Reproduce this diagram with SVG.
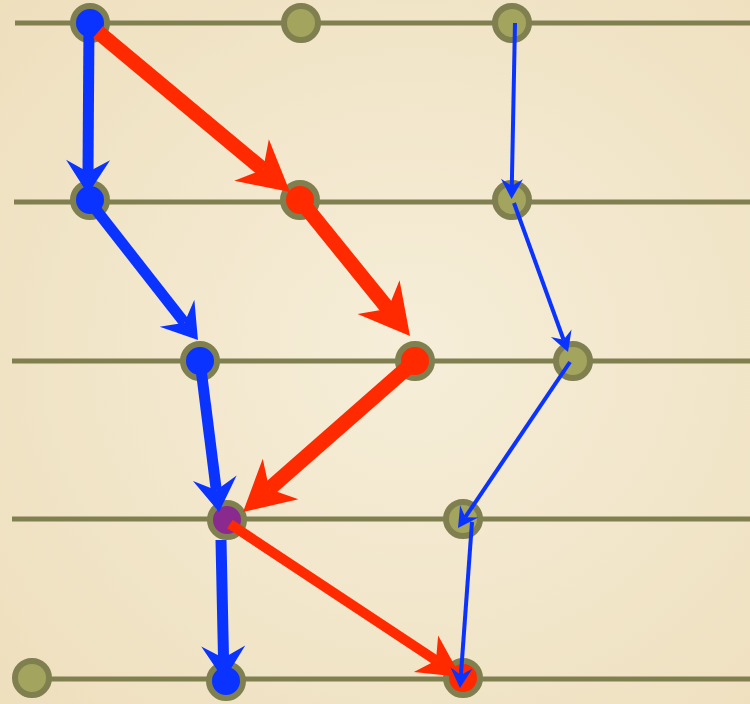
<svg xmlns="http://www.w3.org/2000/svg" width="750" height="704" viewBox="0 0 750 704">
<defs>
<radialGradient id="bg" cx="55%" cy="50%" r="75%">
<stop offset="0" stop-color="#f6eed9"/>
<stop offset="1" stop-color="#eedfbd"/>
</radialGradient>
<marker id="mB" markerUnits="userSpaceOnUse" orient="auto" refX="0" refY="0" markerWidth="1" markerHeight="1" overflow="visible"><path d="M22,0 L-12,-22 L0,0 L-12,22 Z" fill="#0a33ff"/></marker>
<marker id="mR" markerUnits="userSpaceOnUse" orient="auto" refX="0" refY="0" markerWidth="1" markerHeight="1" overflow="visible"><path d="M35,0 L-15,-27 L0,0 L-15,27 Z" fill="#ff2a00"/></marker>
<marker id="mRs" markerUnits="userSpaceOnUse" orient="auto" refX="0" refY="0" markerWidth="1" markerHeight="1" overflow="visible"><path d="M30,0 L-12,-22 L0,0 L-12,22 Z" fill="#ff2a00"/></marker>
<marker id="mT" markerUnits="userSpaceOnUse" orient="auto" refX="0" refY="0" markerWidth="1" markerHeight="1" overflow="visible"><path d="M13,0 L-7,-11 L0,0 L-7,11 Z" fill="#0a33ff"/></marker>
</defs>
<style>
.rail{stroke:#7f7f50;stroke-width:5;fill:none}
.n{stroke:#7f7f50;stroke-width:6}
.ol{fill:#a3a45d}
.bl{fill:#0a33ff}
.rd{fill:#ff2a00}
.pu{fill:#8a2a8e}
.b{stroke:#0a33ff;stroke-width:11;fill:none;marker-end:url(#mB)}
.r{stroke:#ff2a00;stroke-width:15;fill:none;marker-end:url(#mR)}
.rs{stroke:#ff2a00;stroke-width:10;fill:none;marker-end:url(#mRs)}
.t{stroke:#0a33ff;stroke-width:4;fill:none;marker-end:url(#mT)}
</style>
<rect width="750" height="704" fill="url(#bg)"/>
<g id="rails">
<line class="rail" x1="15" y1="23" x2="750" y2="23"/>
<line class="rail" x1="14" y1="202" x2="750" y2="202"/>
<line class="rail" x1="12" y1="361" x2="750" y2="361"/>
<line class="rail" x1="12" y1="519" x2="750" y2="519"/>
<line class="rail" x1="32" y1="679" x2="750" y2="679"/>
</g>
<g id="nodes">
<g id="n1"><circle class="n bl" cx="90" cy="23" r="17"/></g>
<g id="n2"><circle class="n ol" cx="301" cy="23" r="17"/></g>
<g id="n3"><circle class="n ol" cx="512" cy="23" r="17"/></g>
<g id="n4"><circle class="n bl" cx="90" cy="200" r="17"/></g>
<g id="n5"><circle class="n rd" cx="300" cy="200" r="17"/></g>
<g id="n6"><circle class="n ol" cx="512" cy="200" r="17"/></g>
<g id="n7"><circle class="n bl" cx="200" cy="361" r="17"/></g>
<g id="n8"><circle class="n rd" cx="415" cy="361" r="17"/></g>
<g id="n9"><circle class="n ol" cx="573" cy="361" r="17"/></g>
<g id="n10"><circle class="n pu" cx="227" cy="520" r="17"/></g>
<g id="n11"><circle class="n ol" cx="463" cy="519" r="17"/></g>
<g id="n12"><circle class="n ol" cx="32" cy="678" r="17"/></g>
<g id="n13"><circle class="n bl" cx="226" cy="681" r="17"/></g>
<g id="n14"><circle class="n rd" cx="463" cy="678" r="17"/></g>
</g>
<g id="connectors">
<line class="b" x1="89" y1="24" x2="88" y2="172"/>
<line class="b" x1="90" y1="202" x2="184.4" y2="322.7"/>
<line class="b" x1="200" y1="361" x2="216.3" y2="490.2"/>
<line class="b" x1="221" y1="540" x2="223.5" y2="658"/>
<line class="r" x1="98" y1="32" x2="263.1" y2="169.6"/>
<line class="r" x1="300" y1="200" x2="388" y2="308.8"/>
<line class="r" x1="415" y1="361" x2="269.3" y2="488.9"/>
<line class="rs" x1="230" y1="524" x2="436" y2="660.4"/>
<line class="t" x1="515" y1="23" x2="511.8" y2="186"/>
<line class="t" x1="514" y1="203" x2="563.6" y2="339.8"/>
<line class="t" x1="570" y1="362" x2="465.3" y2="517.2"/>
<line class="t" x1="472" y1="522" x2="460.9" y2="675"/>
</g>
</svg>
